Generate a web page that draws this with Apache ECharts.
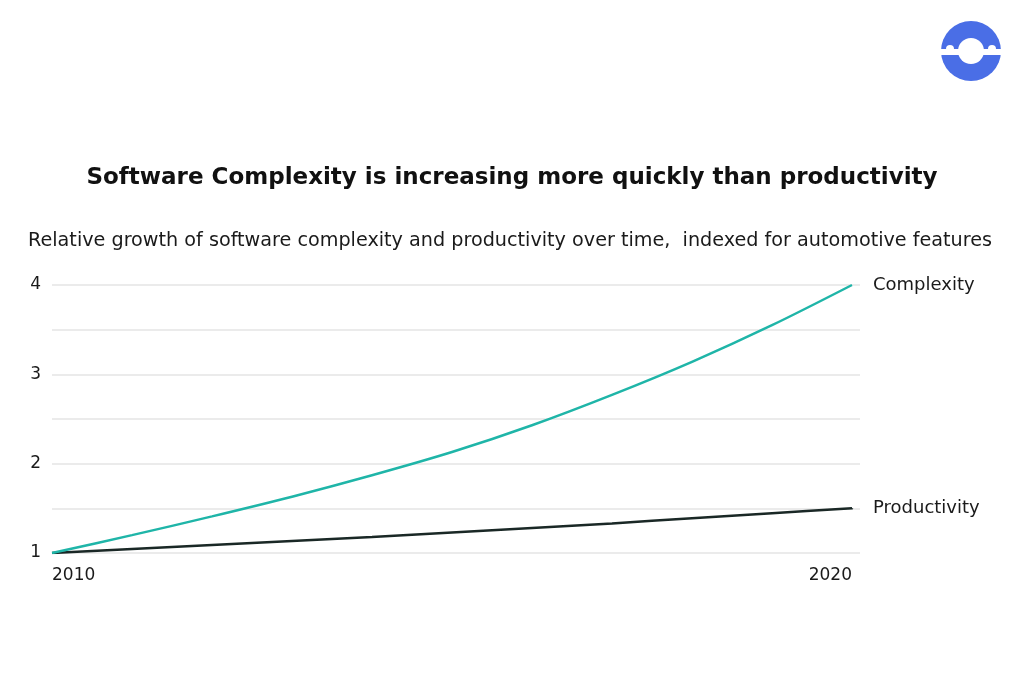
<!DOCTYPE html>
<html>
<head>
<meta charset="utf-8">
<script src="https://cdn.jsdelivr.net/npm/echarts@6/dist/echarts.min.js"></script>
<style>
  html, body { margin: 0; padding: 0; background: #fff; }
  #main { width: 1024px; height: 683px; }
</style>
</head>
<body>
<div id="main"></div>
<script>
// data
var years = [2010, 2011, 2012, 2013, 2014, 2015, 2016, 2017, 2018, 2019, 2020];
var complexity = [1.0, 1.2, 1.41, 1.63, 1.87, 2.13, 2.43, 2.77, 3.14, 3.55, 4.0];
var productivity = [1.0, 1.045, 1.09, 1.135, 1.18, 1.23, 1.28, 1.33, 1.39, 1.445, 1.5];
var xTicks = [2010, 2020];
var yTicks = [1, 2, 3, 4];

var font = '"DejaVu Sans", sans-serif';

function pairs(vals) {
    return years.map(function (y, i) { return [y, vals[i]]; });
}

var myChart = echarts.init(document.getElementById('main'));

var option = {
    backgroundColor: '#fff',
    animation: false,
    title: [
        {
            text: 'Software Complexity is increasing more quickly than productivity',
            left: 'center',
            top: 162,
            textStyle: { fontFamily: font, fontSize: 23, fontWeight: 'bold', color: '#111' }
        },
        {
            text: 'Relative growth of software complexity and productivity over time,  indexed for automotive features',
            left: 23,
            top: 227,
            textStyle: { fontFamily: font, fontSize: 19.2, fontWeight: 'normal', color: '#1a1a1a' }
        }
    ],
    grid: { left: 52, right: 164, top: 285, bottom: 130 },
    xAxis: {
        type: 'value',
        min: 2010,
        max: 2020.1,
        axisLine: { show: false },
        axisTick: { show: false },
        splitLine: { show: false },
        axisLabel: {
            customValues: xTicks,
            margin: 14,
            alignMinLabel: 'left',
            alignMaxLabel: 'right',
            color: '#1a1a1a',
            fontFamily: font,
            fontSize: 17,
            formatter: function (v) { return String(v); }
        }
    },
    yAxis: {
        type: 'value',
        min: 1,
        max: 4,
        interval: 0.5,
        axisLine: { show: false },
        axisTick: { show: false },
        splitLine: { lineStyle: { color: '#e4e4e4', width: 1.5 } },
        axisLabel: {
            margin: 11,
            color: '#1a1a1a',
            fontFamily: font,
            fontSize: 17,
            formatter: function (v) { return yTicks.indexOf(v) >= 0 ? String(v) : ''; }
        }
    },
    series: [
        {
            name: 'Productivity',
            type: 'line',
            data: pairs(productivity),
            smooth: 0.3,
            showSymbol: false,
            lineStyle: { color: '#1a2826', width: 2.5 },
            endLabel: {
                show: true,
                formatter: '{a}',
                distance: 21,
                color: '#1a1a1a',
                fontFamily: font,
                fontSize: 18
            }
        },
        {
            name: 'Complexity',
            type: 'line',
            data: pairs(complexity),
            smooth: 0.3,
            showSymbol: false,
            lineStyle: { color: '#1fb5a8', width: 2.5 },
            endLabel: {
                show: true,
                formatter: '{a}',
                distance: 21,
                color: '#1a1a1a',
                fontFamily: font,
                fontSize: 18
            }
        }
    ],
    // logo in the top right corner
    graphic: [
        { type: 'circle', shape: { cx: 971, cy: 51, r: 30 }, style: { fill: '#4a6ee6' } },
        { type: 'rect', shape: { x: 938, y: 49, width: 66, height: 6 }, style: { fill: '#fff' } },
        { type: 'circle', shape: { cx: 950, cy: 49, r: 4 }, style: { fill: '#fff' } },
        { type: 'circle', shape: { cx: 992, cy: 49, r: 4 }, style: { fill: '#fff' } },
        { type: 'circle', shape: { cx: 971, cy: 51, r: 13 }, style: { fill: '#fff' } }
    ]
};

myChart.setOption(option);
</script>
</body>
</html>
